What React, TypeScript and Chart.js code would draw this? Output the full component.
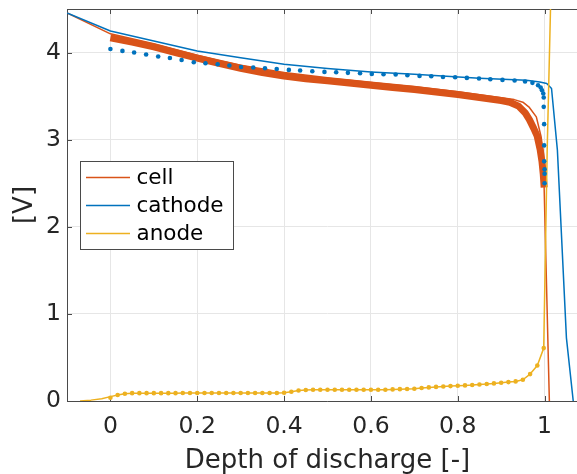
import React, { useEffect, useRef } from "react";
import { Chart, registerables } from "chart.js";

Chart.register(...registerables);

const xTicks = [0, 0.2, 0.4, 0.6, 0.8, 1];
const yTicks = [0, 1, 2, 3, 4];
const legendLabels = ["cell", "cathode", "anode"];

// simulated cell voltage
const cellLineX = [-0.1, 0, 0.1, 0.2, 0.3, 0.4, 0.5, 0.6, 0.7, 0.8, 0.9, 0.93, 0.95, 0.965, 0.981, 0.992, 0.997, 1.011];
const cellLineY = [4.454, 4.215, 4.1, 3.97, 3.855, 3.77, 3.71, 3.66, 3.61, 3.55, 3.48, 3.46, 3.43, 3.37, 3.262, 3.033, 2.85, 0];

// measured cell voltage (dense band)
const cellDataX = [0, 0.05, 0.1, 0.15, 0.2, 0.25, 0.3, 0.35, 0.4, 0.45, 0.5, 0.55, 0.6, 0.65, 0.7, 0.75, 0.8, 0.85, 0.9, 0.92, 0.94, 0.955, 0.965, 0.975, 0.983, 0.99, 0.994, 0.997, 0.999];
const cellDataY = [4.17, 4.12, 4.065, 4.0, 3.935, 3.875, 3.82, 3.77, 3.73, 3.7, 3.675, 3.65, 3.625, 3.6, 3.575, 3.548, 3.518, 3.485, 3.45, 3.43, 3.385, 3.31, 3.23, 3.13, 3.04, 2.88, 2.75, 2.6, 2.45];

// simulated cathode potential
const cathodeLineX = [-0.1, 0, 0.1, 0.2, 0.3, 0.4, 0.5, 0.6, 0.7, 0.774, 0.85, 0.958, 0.989, 1.005, 1.016, 1.0295, 1.0503, 1.066];
const cathodeLineY = [4.454, 4.248, 4.133, 4.018, 3.94, 3.866, 3.817, 3.778, 3.75, 3.728, 3.705, 3.683, 3.663, 3.645, 3.587, 2.88, 0.725, 0];

// measured cathode potential
const cathodeDotsX = [0, 0.0277, 0.0546, 0.0822, 0.11, 0.137, 0.164, 0.192, 0.219, 0.247, 0.274, 0.301, 0.329, 0.356, 0.383, 0.411, 0.437, 0.465, 0.493, 0.52, 0.547, 0.575, 0.602, 0.629, 0.657, 0.684, 0.712, 0.739, 0.766, 0.794, 0.821, 0.849, 0.875, 0.903, 0.931, 0.955, 0.972, 0.985, 0.991, 0.994, 0.997, 0.998, 0.998, 0.999, 0.999, 0.999, 1.0, 1.0, 1.0];
const cathodeDotsY = [4.041, 4.019, 4.0, 3.977, 3.954, 3.938, 3.915, 3.889, 3.877, 3.866, 3.851, 3.835, 3.828, 3.82, 3.812, 3.801, 3.794, 3.786, 3.778, 3.774, 3.767, 3.763, 3.755, 3.751, 3.748, 3.74, 3.732, 3.728, 3.72, 3.717, 3.709, 3.702, 3.694, 3.686, 3.679, 3.668, 3.652, 3.625, 3.599, 3.568, 3.53, 3.484, 3.377, 3.178, 2.934, 2.751, 2.659, 2.609, 2.499];

// measured anode potential
const anodeDotsX = [0, 0.0167, 0.0333, 0.05, 0.0667, 0.0833, 0.1, 0.1167, 0.1333, 0.15, 0.1667, 0.1833, 0.2, 0.2167, 0.2333, 0.25, 0.2667, 0.2833, 0.3, 0.3167, 0.3333, 0.35, 0.3667, 0.3833, 0.4, 0.4167, 0.4333, 0.45, 0.4667, 0.4833, 0.5, 0.5167, 0.5333, 0.55, 0.5667, 0.5833, 0.6, 0.6167, 0.6333, 0.65, 0.6667, 0.6833, 0.7, 0.7167, 0.7333, 0.75, 0.7667, 0.7833, 0.8, 0.8167, 0.8333, 0.85, 0.8667, 0.8833, 0.9, 0.9167, 0.9333, 0.95, 0.9667, 0.9833, 0.998];
const anodeDotsY = [0.038, 0.069, 0.084, 0.09, 0.09, 0.09, 0.09, 0.09, 0.09, 0.09, 0.091, 0.091, 0.091, 0.091, 0.091, 0.091, 0.091, 0.092, 0.092, 0.092, 0.092, 0.092, 0.092, 0.092, 0.094, 0.107, 0.12, 0.126, 0.13, 0.13, 0.13, 0.13, 0.13, 0.13, 0.13, 0.13, 0.13, 0.13, 0.13, 0.133, 0.136, 0.138, 0.141, 0.149, 0.156, 0.162, 0.167, 0.171, 0.175, 0.179, 0.183, 0.19, 0.195, 0.202, 0.21, 0.217, 0.225, 0.244, 0.309, 0.408, 0.607];

// simulated anode potential: lead-in, then through the dots, then the sharp rise
const anodeLeadX = [-0.07, -0.045, -0.02, 0];
const anodeLeadY = [0, 0.01, 0.025, 0.05];
const anodeTailX = [1.006, 1.016];
const anodeTailY = [2.88, 5.0];

const CELL = "#D95319";
const CATHODE = "#0072BD";
const ANODE = "#EDB120";
const TEXT = "#262626";
const AXIS = "#4a4a4a";
const GRID = "#e6e6e6";
const FONT = "'DejaVu Sans', sans-serif";

const pts = (xs: number[], ys: number[]) => xs.map((x, i) => ({ x, y: ys[i] }));

export default function App() {
  const ref = useRef<HTMLCanvasElement>(null);

  useEffect(() => {
    const canvas = ref.current!;
    const colors = [CELL, CATHODE, ANODE];

    const matlabAxes = {
      id: "matlabAxes",
      beforeDatasetsDraw(chart: any) {
        const { ctx, chartArea: a, scales } = chart;
        ctx.save();
        ctx.strokeStyle = AXIS;
        ctx.lineWidth = 1;
        ctx.beginPath();
        // box
        ctx.moveTo(a.left + 0.5, a.top + 0.5);
        ctx.lineTo(a.right + 0.5, a.top + 0.5);
        ctx.moveTo(a.left + 0.5, a.top);
        ctx.lineTo(a.left + 0.5, a.bottom + 1);
        ctx.moveTo(a.left, a.bottom + 0.5);
        ctx.lineTo(a.right + 0.5, a.bottom + 0.5);
        ctx.moveTo(a.right + 0.5, a.top);
        ctx.lineTo(a.right + 0.5, a.bottom + 1);
        // inward ticks
        const tl = 5;
        for (const v of xTicks) {
          const px = Math.round(scales.x.getPixelForValue(v)) + 0.5;
          ctx.moveTo(px, a.bottom);
          ctx.lineTo(px, a.bottom - tl);
          ctx.moveTo(px, a.top);
          ctx.lineTo(px, a.top + tl);
        }
        for (const v of yTicks) {
          const py = Math.round(scales.y.getPixelForValue(v)) + 0.5;
          ctx.moveTo(a.left, py);
          ctx.lineTo(a.left + tl, py);
          ctx.moveTo(a.right, py);
          ctx.lineTo(a.right - tl, py);
        }
        ctx.stroke();
        ctx.restore();
      },
      afterDraw(chart: any) {
        const { ctx } = chart;
        ctx.save();
        const bx = 80.5, by = 161.5, bw = 153, bh = 88;
        ctx.fillStyle = "#ffffff";
        ctx.fillRect(bx, by, bw, bh);
        ctx.strokeStyle = AXIS;
        ctx.lineWidth = 1;
        ctx.strokeRect(bx, by, bw, bh);
        ctx.font = `21.5px ${FONT}`;
        ctx.textBaseline = "middle";
        ctx.textAlign = "left";
        legendLabels.forEach((label, i) => {
          const y = 177.5 + i * 28;
          ctx.strokeStyle = colors[i];
          ctx.lineWidth = 1.5;
          ctx.beginPath();
          ctx.moveTo(86, y);
          ctx.lineTo(130, y);
          ctx.stroke();
          ctx.fillStyle = "#000000";
          ctx.fillText(label, 136.5, y + 1);
        });
        ctx.restore();
      },
    };

    const line = (data: any, color: string, width: number) => ({
      data,
      borderColor: color,
      backgroundColor: color,
      borderWidth: width,
      pointRadius: 0,
      tension: 0,
      fill: false,
      borderJoinStyle: "round" as const,
    });
    const dots = (data: any, color: string) => ({
      data,
      showLine: false,
      borderColor: color,
      backgroundColor: color,
      pointBackgroundColor: color,
      pointBorderWidth: 0,
      pointRadius: 2.3,
      pointHoverRadius: 2.3,
    });

    const chart = new Chart(canvas, {
      type: "line",
      data: {
        datasets: [
          dots(pts(anodeDotsX, anodeDotsY), ANODE),
          dots(pts(cathodeDotsX, cathodeDotsY), CATHODE),
          line(
            pts(
              anodeLeadX.concat(anodeDotsX.slice(1), anodeTailX),
              anodeLeadY.concat(anodeDotsY.slice(1), anodeTailY)
            ),
            ANODE,
            1.5
          ),
          line(pts(cellDataX, cellDataY), CELL, 7),
          line(pts(cathodeLineX, cathodeLineY), CATHODE, 1.5),
          line(pts(cellLineX, cellLineY), CELL, 1.5),
        ] as any,
      },
      options: {
        responsive: false,
        animation: false,
        devicePixelRatio: 1,
        events: [],
        layout: { padding: { top: 9, right: 12, bottom: 0, left: 0 } },
        plugins: { legend: { display: false }, tooltip: { enabled: false } },
        scales: {
          x: {
            type: "linear",
            min: -0.1,
            max: 1.1,
            afterBuildTicks: (s: any) => {
              s.ticks = xTicks.map((v) => ({ value: v }));
            },
            afterFit: (s: any) => {
              s.height = 73;
              s.paddingLeft = 0;
              s.paddingRight = 0;
              s.paddingTop = 0;
              s.paddingBottom = 0;
            },
            grid: { color: GRID, lineWidth: 1, drawTicks: false },
            border: { display: false },
            ticks: {
              padding: 12,
              color: TEXT,
              font: { family: FONT, size: 23.5 },
              maxRotation: 0,
              autoSkip: false,
              callback: (v: any) => String(v),
            },
            title: {
              display: true,
              text: "Depth of discharge [-]",
              color: TEXT,
              font: { family: FONT, size: 26, lineHeight: 1 },
              padding: { top: 0, bottom: 0 },
            },
          },
          y: {
            type: "linear",
            min: 0,
            max: 4.5,
            afterBuildTicks: (s: any) => {
              s.ticks = yTicks.map((v) => ({ value: v }));
            },
            afterFit: (s: any) => {
              s.width = 67;
              s.paddingLeft = 0;
              s.paddingRight = 0;
              s.paddingTop = 0;
              s.paddingBottom = 0;
            },
            grid: { color: GRID, lineWidth: 1, drawTicks: false },
            border: { display: false },
            ticks: {
              padding: 6,
              color: TEXT,
              font: { family: FONT, size: 23.5 },
              autoSkip: false,
              callback: (v: any) => String(v),
            },
            title: {
              display: true,
              text: "[V]",
              color: TEXT,
              font: { family: FONT, size: 26, lineHeight: 1 },
              padding: { top: 12, bottom: 0 },
            },
          },
        },
      } as any,
      plugins: [matlabAxes],
    });

    return () => chart.destroy();
  }, []);

  return (
    <div
      style={{
        position: "fixed",
        left: 0,
        top: 0,
        width: 577,
        height: 474,
        overflow: "hidden",
        background: "#ffffff",
      }}
    >
      <canvas ref={ref} width={600} height={474} style={{ display: "block", width: 600, height: 474 }} />
    </div>
  );
}
